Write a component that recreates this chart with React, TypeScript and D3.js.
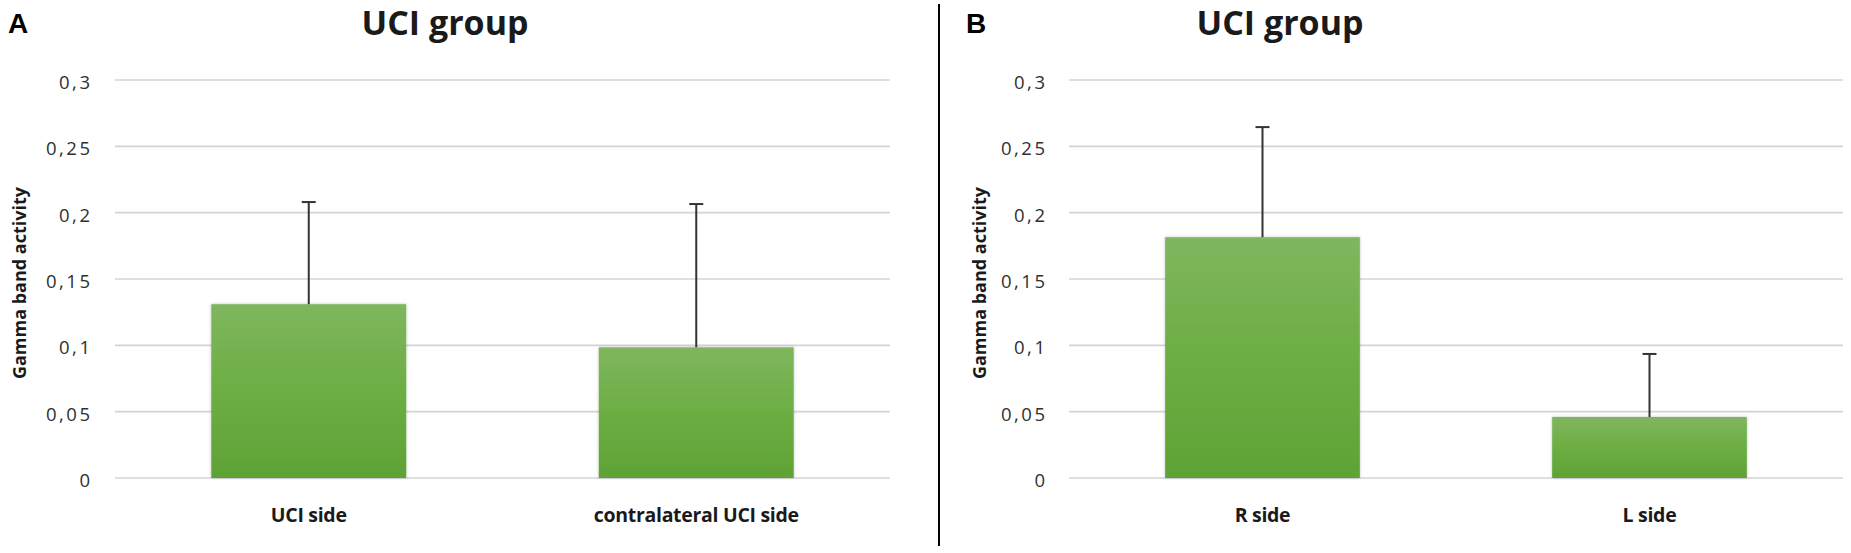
import React from "react";
import * as d3 from "d3";

const leftCategories = ["UCI side", "contralateral UCI side"];
const leftMeans = [0.131, 0.0985];
const leftErrors = [0.077, 0.108];

const rightCategories = ["R side", "L side"];
const rightMeans = [0.1815, 0.046];
const rightErrors = [0.083, 0.0475];

const yTicks = [0, 0.05, 0.1, 0.15, 0.2, 0.25, 0.3];
const yTickLabels = ["0", "0,05", "0,1", "0,15", "0,2", "0,25", "0,3"];

const titleText = "UCI group";
const yAxisTitle = "Gamma band activity";
const panelLetters = ["A", "B"];

const W = 1851;
const H = 553;

type PanelProps = {
  categories: string[];
  means: number[];
  errors: number[];
  x0: number;
  x1: number;
  tickRight: number;
  yLabelX: number;
  titleX: number;
  letter: string;
  letterX: number;
  id: string;
};

const FONT = "'Open Sans', 'Noto Sans', sans-serif";

function Panel(p: PanelProps) {
  const y = d3.scaleLinear().domain([0, 0.3]).range([478, 80]);
  const x = d3
    .scaleBand<string>()
    .domain(p.categories)
    .range([p.x0, p.x1])
    .paddingInner(0.497)
    .paddingOuter(0.2485);
  const ls = 2.5;
  return (
    <g>
      <text x={p.letterX} y={33} fontFamily="'Liberation Sans', Arial, sans-serif" fontWeight="bold" fontSize={28} fill="#000">
        {p.letter}
      </text>
      <text x={p.titleX} y={35} textAnchor="middle" fontFamily={FONT} fontWeight="bold" fontSize={34} fill="#1a1a1a">
        {titleText}
      </text>
      {yTicks.map((t, i) => (
        <g key={"t" + i}>
          <line x1={p.x0} x2={p.x1} y1={y(t)} y2={y(t)} stroke="#d4d4d4" strokeWidth={1.6} />
          <text
            x={p.tickRight + ls}
            y={y(t) + 9}
            textAnchor="end"
            fontFamily={FONT}
            fontSize={18.5}
            letterSpacing={ls}
            fill="#303030"
          >
            {yTickLabels[i]}
          </text>
        </g>
      ))}
      <text
        transform={`translate(${p.yLabelX},${(y(0) + y(0.3)) / 2 + 4}) rotate(-90)`}
        textAnchor="middle"
        dominantBaseline="central"
        fontFamily={FONT}
        fontWeight="bold"
        fontSize={18}
        fill="#1a1a1a"
      >
        {yAxisTitle}
      </text>
      {p.categories.map((c, i) => {
        const bx = x(c) as number;
        const bw = x.bandwidth();
        const cx = bx + bw / 2;
        const top = y(p.means[i]);
        const errTop = y(p.means[i] + p.errors[i]);
        return (
          <g key={c}>
            <rect
              x={bx}
              y={top}
              width={bw}
              height={y(0) - top}
              fill={`url(#grad-${p.id})`}
              filter={`url(#shadow-${p.id})`}
            />
            <line x1={cx} x2={cx} y1={top} y2={errTop} stroke="#333" strokeWidth={2} />
            <line x1={cx - 7} x2={cx + 7} y1={errTop} y2={errTop} stroke="#333" strokeWidth={2} />
            <text x={cx} y={522} textAnchor="middle" fontFamily={FONT} fontWeight="bold" fontSize={19.5} letterSpacing={-0.3} fill="#1a1a1a">
              {c}
            </text>
          </g>
        );
      })}
    </g>
  );
}

export default function App() {
  return (
    <svg
      width={W}
      height={H}
      viewBox={`0 0 ${W} ${H}`}
      style={{ position: "absolute", left: 0, top: 0, background: "#fff" }}
    >
      <defs>
        {["a", "b"].map((id) => (
          <React.Fragment key={id}>
            <linearGradient id={`grad-${id}`} x1="0" y1="0" x2="0" y2="1">
              <stop offset="0" stopColor="#7fb65e" />
              <stop offset="0.5" stopColor="#6cae43" />
              <stop offset="1" stopColor="#5fa235" />
            </linearGradient>
            <filter id={`shadow-${id}`} x="-10%" y="-10%" width="120%" height="120%">
              <feDropShadow dx="0" dy="0" stdDeviation="1.5" floodColor="#000" floodOpacity="0.25" />
            </filter>
          </React.Fragment>
        ))}
      </defs>
      <rect x={0} y={0} width={W} height={H} fill="#fff" />
      <Panel
        categories={leftCategories}
        means={leftMeans}
        errors={leftErrors}
        x0={115}
        x1={890}
        tickRight={90}
        yLabelX={19}
        titleX={445}
        letter={panelLetters[0]}
        letterX={8}
        id="a"
      />
      <Panel
        categories={rightCategories}
        means={rightMeans}
        errors={rightErrors}
        x0={1069}
        x1={1843}
        tickRight={1045}
        yLabelX={979}
        titleX={1280}
        letter={panelLetters[1]}
        letterX={966}
        id="b"
      />
      <line x1={939} x2={939} y1={4} y2={546} stroke="#000" strokeWidth={2} />
    </svg>
  );
}
